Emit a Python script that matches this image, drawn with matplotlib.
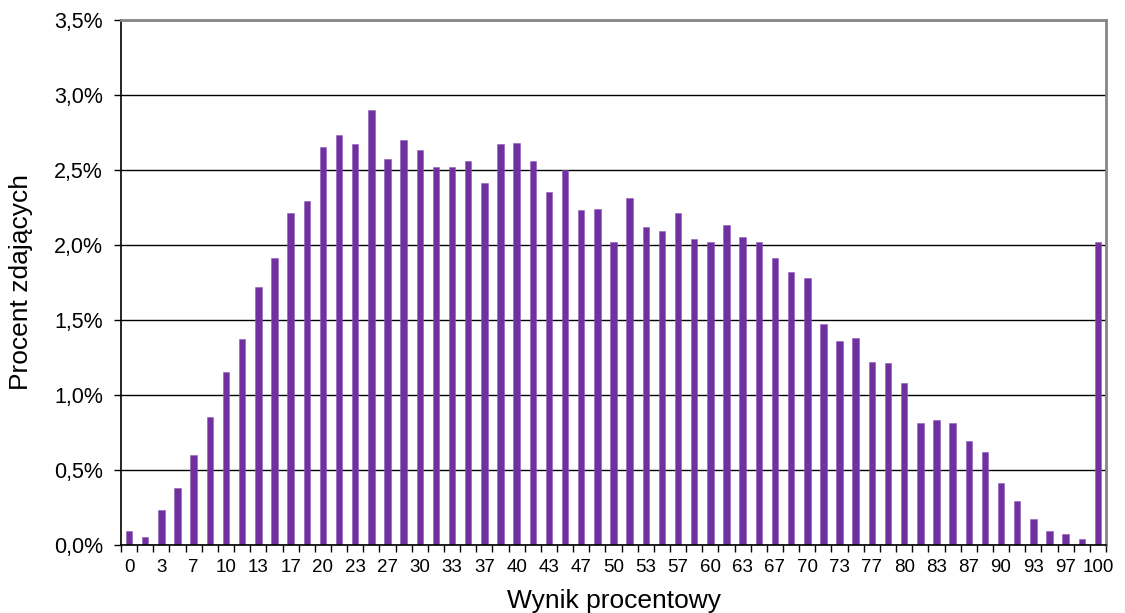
import numpy as np
import matplotlib
matplotlib.use("Agg")
import matplotlib.pyplot as plt
from matplotlib.ticker import FuncFormatter, FixedLocator

plt.rcParams["font.family"] = ["Liberation Sans", "DejaVu Sans"]

# Percent of students per score bucket (61 buckets, every 1/60 of the scale)
VALUES = [
    0.09, 0.05, 0.23, 0.38, 0.60, 0.85, 1.15, 1.37, 1.72, 1.91,
    2.21, 2.29, 2.65, 2.73, 2.67, 2.90, 2.57, 2.70, 2.63, 2.52,
    2.52, 2.56, 2.41, 2.67, 2.68, 2.56, 2.35, 2.50, 2.23, 2.24,
    2.02, 2.31, 2.12, 2.09, 2.21, 2.04, 2.02, 2.13, 2.05, 2.02,
    1.91, 1.82, 1.78, 1.47, 1.36, 1.38, 1.22, 1.21, 1.08, 0.81,
    0.83, 0.81, 0.69, 0.62, 0.41, 0.29, 0.17, 0.09, 0.07, 0.04,
    2.02,
]
# labels shown under every second bucket
TICK_LABELS = [
    "0", "3", "7", "10", "13", "17", "20", "23", "27", "30", "33",
    "37", "40", "43", "47", "50", "53", "57", "60", "63", "67", "70",
    "73", "77", "80", "83", "87", "90", "93", "97", "100",
]
Y_TICKS = [0.0, 0.5, 1.0, 1.5, 2.0, 2.5, 3.0, 3.5]

fig = plt.figure(figsize=(11.25, 6.13), dpi=100)
ax = fig.add_axes([0.1076, 0.111, 0.8755, 0.8565])

x = np.arange(len(VALUES))
ax.bar(x, VALUES, width=0.4, color="#7030A0", edgecolor="#8F5CB8", linewidth=0.4, zorder=3)

ax.set_xlim(-0.5, len(VALUES) - 0.5)
ax.set_ylim(0, 3.5)

# horizontal gridlines
ax.set_yticks(Y_TICKS)
ax.yaxis.set_major_formatter(FuncFormatter(lambda v, p: f"{v:.1f}%".replace(".", ",")))
ax.grid(axis="y", color="black", linewidth=1.0, zorder=1)

# tick marks between categories, labels under every second bar
ax.xaxis.set_major_locator(FixedLocator(np.arange(len(VALUES) + 1) - 0.5))
ax.xaxis.set_major_formatter(FuncFormatter(lambda v, p: ""))
ax.xaxis.set_minor_locator(FixedLocator(x[::2]))
ax.set_xticklabels(TICK_LABELS, minor=True)
ax.tick_params(axis="x", which="major", direction="out", length=5, width=1, color="black")
ax.tick_params(axis="x", which="minor", length=0, labelsize=13.5, pad=10)
ax.tick_params(axis="y", direction="out", length=5, width=1, labelsize=15.5, pad=8)

for side in ["top", "right"]:
    ax.spines[side].set_color("#868686")
    ax.spines[side].set_linewidth(2)
for side in ["left", "bottom"]:
    ax.spines[side].set_color("black")
    ax.spines[side].set_linewidth(1.2)
ax.spines["bottom"].set_zorder(4)

ax.set_xlabel("Wynik procentowy", fontsize=19, va="center")
ax.xaxis.set_label_coords(0.5, -0.107)
ax.set_ylabel("Procent zdających", fontsize=19, va="center")
ax.yaxis.set_label_coords(-0.102, 0.5)

fig.savefig("out.png", dpi=100)
